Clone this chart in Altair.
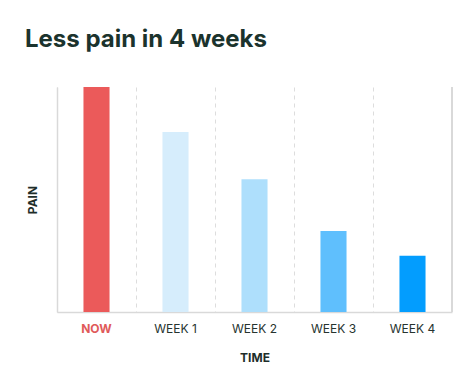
import altair as alt
import pandas as pd

categories = ["NOW", "WEEK 1", "WEEK 2", "WEEK 3", "WEEK 4"]
pain = [100, 80, 59, 36, 25]
colors = ["#EB5A5A", "#D6EDFC", "#AEDFFC", "#5FBFFD", "#039DFE"]

df = pd.DataFrame({"time": categories, "pain": pain})

FONT = "Inter"

bars = alt.Chart(df).mark_bar(width={"band": 0.33}).encode(
    x=alt.X(
        "time:N",
        sort=categories,
        scale=alt.Scale(paddingInner=0, paddingOuter=0),
        axis=alt.Axis(
            title="TIME",
            labelAngle=0,
            labelFont=FONT,
            labelFontSize=12,
            labelPadding=11,
            labelColor=alt.condition("datum.value == 'NOW'", alt.value("#E05A5A"), alt.value("#26332F")),
            labelFontWeight=alt.condition("datum.value == 'NOW'", alt.value("bold"), alt.value("normal")),
            ticks=False,
            grid=True,
            bandPosition=0,
            gridDash=[4, 4],
            gridColor="#DDDDDD",
            gridWidth=1,
            domainColor="#D9D9D9",
            domainWidth=1.5,
            titleFont=FONT,
            titleFontSize=12,
            titleFontWeight="bold",
            titleColor="#1E2E2A",
            titlePadding=18,
        ),
    ),
    y=alt.Y(
        "pain:Q",
        scale=alt.Scale(domain=[0, 100], nice=False),
        axis=alt.Axis(
            title="PAIN",
            labels=False,
            ticks=False,
            grid=False,
            domainColor="#D9D9D9",
            domainWidth=1.5,
            titleFont=FONT,
            titleFontSize=12,
            titleFontWeight="bold",
            titleColor="#1E2E2A",
            titlePadding=18,
        ),
    ),
    color=alt.Color("time:N", sort=categories,
                    scale=alt.Scale(domain=categories, range=colors), legend=None),
)

border = alt.Chart(df).mark_rule(color="#D9D9D9", strokeWidth=1.5).encode(
    x=alt.value(395), y=alt.value(0), y2=alt.value(225)
)

chart = alt.layer(bars, border).properties(
    width=395,
    height=225,
    padding={"left": 49, "top": 79, "right": 5, "bottom": 64},
    autosize=alt.AutoSizeParams(type="none"),
    title=alt.TitleParams(
        "Less pain in 4 weeks",
        anchor="start",
        frame="group",
        font=FONT,
        fontSize=24,
        fontWeight="bold",
        color="#1B332D",
        dx=-32,
        offset=34,
    ),
).configure_view(stroke=None)

chart.save("out.html", embed_options={"renderer": "svg", "actions": False})
